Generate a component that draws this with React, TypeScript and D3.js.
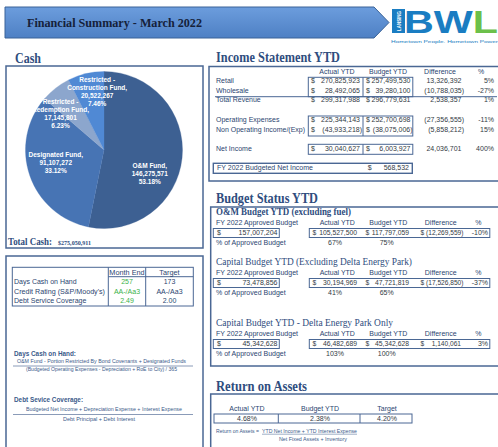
import React from "react";
import * as d3 from "d3";

// ---------- DATA ----------
const cashCategories = ["O&M Fund", "Designated Fund", "Restricted - Redemption Fund", "Restricted - Construction Fund"];
const cashValues = [146275571, 91107272, 17145801, 20522267];
const cashColors = ["#3d6092", "#4774b4", "#8ca6cd", "#5089d4"];

const incomeHeaders = ["Actual YTD", "Budget YTD", "Difference", "%"];
const incomeRows = ["Retail", "Wholesale", "Total Revenue", "Operating Expenses", "Non Operating Income/(Exp)", "Net Income"];
const incomeActual = [270825923, 28492065, 299317988, 225344143, -43933218, 30040627];
const incomeBudget = [257499530, 39280100, 296779631, 252700698, -38075006, 6003927];
const incomeDiff = [13326392, -10788035, 2538357, -27356555, -5858212, 24036701];
const incomePct = ["5%", "-27%", "1%", "-11%", "15%", "400%"];
const budgetedNetIncome = 568532;

const budgetTitles = ["O&M Budget YTD (excluding fuel)", "Capital Budget YTD (Excluding Delta Energy Park)", "Capital Budget YTD - Delta Energy Park Only"];
const budgetApproved = [157007204, 73478856, 45342628];
const budgetActual = [105527500, 30194969, 46482689];
const budgetBudget = [117797059, 47721819, 45342628];
const budgetDiff = [-12269559, -17526850, 1140061];
const budgetPct = ["-10%", "-37%", "3%"];
const budgetPctActual = ["67%", "41%", "103%"];
const budgetPctBudget = ["75%", "65%", "100%"];

const roaHeaders = ["Actual YTD", "Budget YTD", "Target"];
const roaValues = ["4.68%", "2.38%", "4.20%"];

const metricHeaders = ["Month End", "Target"];
const metricLabels = ["Days Cash on Hand", "Credit Rating  (S&P/Moody's)", "Debt Service Coverage"];
const metricMonthEnd = ["257", "AA-/Aa3", "2.49"];
const metricTarget = ["173", "AA-/Aa3", "2.00"];

// ---------- STYLE ----------
const SANS = "'Liberation Sans', Arial, sans-serif";
const SERIF = "'Liberation Serif', 'Times New Roman', serif";
const NAVY = "#2f4d7e";
const FRAME = "#4a6794";
const LABEL = "#2b4570";
const NUM = "#333a44";
const GREEN = "#3cb34a";

const numFmt = d3.format(",");
const acct = (v: number) => (v < 0 ? `(${numFmt(-v)})` : numFmt(v));

function Money({ v, dx, rx, y, pad = 2, dollar = true, size = 7 }: any) {
  return (
    <g fontFamily={SANS} fontSize={size} fill={NUM}>
      {dollar && <text x={dx} y={y}>$</text>}
      <text x={rx - (v < 0 ? 0 : pad)} y={y} textAnchor="end">{acct(v)}</text>
    </g>
  );
}

export default function App() {
  const W = 498, H = 447;
  // Pie
  const cx = 104, cy = 150, R = 78.5;
  const pie = d3.pie<number>().sort(null).value((d) => d);
  const arcs = pie(cashValues);
  const arc = d3.arc<d3.PieArcDatum<number>>().innerRadius(0).outerRadius(R);
  const lblArc = d3.arc<d3.PieArcDatum<number>>().innerRadius(R * 0.65).outerRadius(R * 0.65);
  const total = d3.sum(cashValues);
  const pctFmt = d3.format(".2%");
  const labelNudge = [[-5, 19], [0, -4], [-12, 4], [5, -9]];

  // Income layout
  const incY = [83.3, 92.7, 102.3, 122, 131.7, 150.7];
  const incHeadX = [337, 388, 440, 481];

  // Budget layout
  const secY = [215, 265, 326];
  const metY = [284.3, 293.7, 302.7];

  return (
    <svg width={W} height={H} style={{ position: "absolute", left: 0, top: 0, background: "#fff" }}>
      <defs>
        <linearGradient id="ban" x1="0" y1="0" x2="0" y2="1">
          <stop offset="0" stopColor="#6c9ddd" />
          <stop offset="1" stopColor="#4e80c4" />
        </linearGradient>
      </defs>
      <rect width={W} height={H} fill="#fff" />

      {/* Header banner */}
      <polygon points="5,7 374,7 389,22.5 374,38 5,38" fill="url(#ban)" stroke="#3a6398" strokeWidth={1} />
      <text x={27} y={27} fontFamily={SERIF} fontWeight="bold" fontSize={13} fill="#15213a" textLength={175} lengthAdjust="spacingAndGlyphs">
        Financial Summary - March 2022
      </text>
      {/* Logo */}
      <rect x={392} y={9} width={13} height={24} fill="#1a7dc2" />
      <text x={404} y={32.5} fontFamily={SANS} fontWeight="bold" fontSize={31} textLength={94} lengthAdjust="spacingAndGlyphs">
        <tspan fill="#1a7dc2">BW</tspan><tspan fill="#6cc04a">L</tspan>
      </text>
      <text x={391} y={43} fontFamily={SANS} fontSize={4.2} fill="#1a7dc2" textLength={107} lengthAdjust="spacingAndGlyphs">Hometown People. Hometown Power</text>
      <text transform="translate(400.5,31) rotate(-90)" fontFamily={SANS} fontSize={5} fontWeight="bold" fill="#fff" textLength={20} lengthAdjust="spacingAndGlyphs">LANSING</text>

      {/* Frames */}
      <g fill="none" stroke={FRAME} strokeWidth={1.5}>
        <rect x={6} y={66} width={197} height={182} />
        <rect x={6} y={256} width={197} height={200} />
        <rect x={209} y={66.5} width={300} height={114.5} />
        <rect x={210.7} y={207} width={300} height={159} />
        <rect x={210.7} y={394} width={300} height={60} />
      </g>

      {/* Cash */}
      <text x={15} y={63} fontFamily={SERIF} fontWeight="bold" fontSize={15} fill={NAVY} textLength={26} lengthAdjust="spacingAndGlyphs">Cash</text>
      <g transform={`translate(${cx},${cy})`}>
        {arcs.map((a, i) => (
          <path key={i} d={arc(a) || ""} fill={cashColors[i]} stroke={cashColors[i]} strokeWidth={0.3} />
        ))}
        {arcs.map((a, i) => {
          const [x, y] = lblArc.centroid(a);
          const name = cashCategories[i];
          const parts = name.includes(" - ") ? [name.split(" - ")[0] + " -", name.split(" - ")[1] + ","] : [name + ","];
          const lines = [...parts, numFmt(cashValues[i]), pctFmt(cashValues[i] / total)];
          const lx = x + labelNudge[i][0];
          const ly = y + labelNudge[i][1] - ((lines.length - 1) * 8) / 2 + 2.3;
          return (
            <text key={"l" + i} x={lx} y={ly} textAnchor="middle" fontFamily={SANS} fontSize={6.5} fontWeight="bold" fill="#fff">
              {lines.map((t, j) => (
                <tspan key={j} x={lx} y={ly + j * 8}>{t}</tspan>
              ))}
            </text>
          );
        })}
      </g>
      <text x={8} y={245} fontFamily={SERIF} fontWeight="bold" fontSize={10.5} fill={NAVY} textLength={44} lengthAdjust="spacingAndGlyphs">Total Cash:</text>
      <text x={58} y={245} fontFamily={SERIF} fontWeight="bold" fontSize={5.5} fill={NAVY} textLength={33} lengthAdjust="spacingAndGlyphs">{"$" + numFmt(total)}</text>

      {/* Metrics table */}
      <g fill="none" stroke={FRAME} strokeWidth={1}>
        <rect x={12.3} y={267.3} width={181} height={38.7} />
        <line x1={108.3} y1={267.3} x2={108.3} y2={306} />
        <line x1={145.7} y1={267.3} x2={145.7} y2={306} />
        <line x1={108.3} y1={276.7} x2={193.3} y2={276.7} />
      </g>
      <g fontFamily={SANS} fontSize={7} fill={LABEL}>
        {metricHeaders.map((h, i) => (
          <text key={h} x={[127, 169.5][i]} y={275} textAnchor="middle" fontSize={7.3}>{h}</text>
        ))}
        {metricLabels.map((l, i) => (
          <g key={l}>
            <text x={14} y={metY[i]} textLength={i === 1 ? 91 : undefined} lengthAdjust="spacingAndGlyphs">{l}</text>
            <text x={127} y={metY[i]} textAnchor="middle" fill={GREEN}>{metricMonthEnd[i]}</text>
            <text x={169.5} y={metY[i]} textAnchor="middle">{metricTarget[i]}</text>
          </g>
        ))}
      </g>

      {/* Notes */}
      <g fontFamily={SANS} fill="#3b5a8a">
        <text x={14} y={356} fontSize={8} fontWeight="bold" textLength={62} lengthAdjust="spacingAndGlyphs">Days Cash on Hand:</text>
        <text x={17} y={363} fontSize={5} textLength={169} lengthAdjust="spacingAndGlyphs">O&amp;M Fund - Portion Restricted By Bond Covenants + Designated Funds</text>
        <text x={26} y={371} fontSize={5} textLength={151} lengthAdjust="spacingAndGlyphs">(Budgeted Operating Expenses - Depreciation + RoE to City) / 365</text>
        <text x={14} y={402} fontSize={8} fontWeight="bold" textLength={69} lengthAdjust="spacingAndGlyphs">Debt Sevice Coverage:</text>
        <text x={26} y={411} fontSize={5} textLength={156} lengthAdjust="spacingAndGlyphs">Budgeted Net Income + Depreciation Expense + Interest Expense</text>
        <text x={63} y={421} fontSize={5} textLength={72} lengthAdjust="spacingAndGlyphs">Debt Principal + Debt Interest</text>
      </g>
      <g stroke="#8a9bb8" strokeWidth={1}>
        <line x1={13} y1={366} x2={193} y2={366} />
        <line x1={13} y1={414.5} x2={193} y2={414.5} />
      </g>

      {/* Income Statement */}
      <text x={216} y={61.5} fontFamily={SERIF} fontWeight="bold" fontSize={15} fill={NAVY} textLength={124} lengthAdjust="spacingAndGlyphs">Income Statement YTD</text>
      <g fontFamily={SANS} fontSize={7} fill={LABEL}>
        {incomeHeaders.map((h, i) => (
          <text key={h} x={incHeadX[i]} y={74} textAnchor="middle">{h}</text>
        ))}
        {incomeRows.map((r, i) => (
          <text key={r} x={216} y={incY[i]}>{r}</text>
        ))}
      </g>
      {incomeRows.map((r, i) => (
        <g key={"v" + r}>
          <Money v={incomeActual[i]} dx={311} rx={362} y={incY[i]} />
          <Money v={incomeBudget[i]} dx={366} rx={412.5} y={incY[i]} />
          <Money v={incomeDiff[i]} rx={464} y={incY[i]} dollar={false} pad={2.5} />
          <text x={494} y={incY[i]} textAnchor="end" fontFamily={SANS} fontSize={7} fill={NUM}>{incomePct[i]}</text>
        </g>
      ))}
      <g fill="none" stroke={FRAME} strokeWidth={1}>
        <rect x={308.3} y={77.3} width={104.5} height={19.4} />
        <line x1={363} y1={77.3} x2={363} y2={96.7} />
        <line x1={215} y1={96.7} x2={497} y2={96.7} />
        <rect x={308.3} y={116} width={104.5} height={20} />
        <line x1={363} y1={116} x2={363} y2={136} />
        <rect x={308.3} y={144.3} width={104.5} height={10} />
        <line x1={363} y1={144.3} x2={363} y2={154.3} />
        <rect x={213.3} y={163.3} width={199} height={10} strokeWidth={1.4} />
      </g>
      <text x={217} y={170.3} fontFamily={SANS} fontSize={7} fill={LABEL}>FY 2022 Budgeted Net Income</text>
      <Money v={budgetedNetIncome} dx={367.7} rx={409} pad={0} y={170.3} />

      {/* Budget Status */}
      <text x={216} y={203} fontFamily={SERIF} fontWeight="bold" fontSize={15} fill={NAVY} textLength={102} lengthAdjust="spacingAndGlyphs">Budget Status YTD</text>
      {budgetTitles.map((t, i) => {
        const y0 = secY[i];
        const tw = [135, 196, 177][i];
        return (
          <g key={t}>
            <text x={216} y={y0} fontFamily={SERIF} fontWeight={i === 0 ? "bold" : "normal"} fontSize={10.5} fill={NAVY} textLength={tw} lengthAdjust="spacingAndGlyphs">{t}</text>
            <g fontFamily={SANS} fontSize={7} fill={LABEL}>
              <text x={216} y={y0 + 9.5}>FY 2022 Approved Budget</text>
              {incomeHeaders.map((h, j) => (
                <text key={h} x={[337.3, 388.3, 440.7, 478.3][j]} y={y0 + 9.5} textAnchor="middle">{h}</text>
              ))}
              <text x={216} y={y0 + 29.5}>% of Approved Budget</text>
            </g>
            <g fontFamily={SANS} fontSize={7} fill={NUM}>
              <text x={335} y={y0 + 29.5} textAnchor="middle">{budgetPctActual[i]}</text>
              <text x={386.7} y={y0 + 29.5} textAnchor="middle">{budgetPctBudget[i]}</text>
            </g>
            <g fill="none" stroke={FRAME} strokeWidth={1}>
              <rect x={213.3} y={y0 + 13.5} width={66} height={9} />
              <rect x={309.3} y={y0 + 13.5} width={180.5} height={9} />
            </g>
            <Money v={budgetApproved[i]} dx={217} rx={277.5} pad={0} y={y0 + 20} />
            <Money v={budgetActual[i]} dx={312.5} rx={359} y={y0 + 20} size={6.8} />
            <Money v={budgetBudget[i]} dx={365.5} rx={411} y={y0 + 20} size={6.8} />
            <Money v={budgetDiff[i]} dx={420.5} rx={463.5} pad={2.5} y={y0 + 20} size={6.6} />
            <text x={488} y={y0 + 20} textAnchor="end" fontFamily={SANS} fontSize={7} fill={NUM}>{budgetPct[i]}</text>
          </g>
        );
      })}

      {/* Return on Assets */}
      <text x={216} y={391} fontFamily={SERIF} fontWeight="bold" fontSize={15} fill={NAVY} textLength={91} lengthAdjust="spacingAndGlyphs">Return on Assets</text>
      <g fill="none" stroke={FRAME} strokeWidth={1}>
        <rect x={214} y={414} width={198} height={9} />
        <line x1={278.3} y1={414} x2={278.3} y2={423} />
        <line x1={360} y1={414} x2={360} y2={423} />
      </g>
      <g fontFamily={SANS} fontSize={7} textAnchor="middle">
        {roaHeaders.map((h, i) => (
          <g key={h}>
            <text x={[247, 320, 387][i]} y={411} fill={LABEL}>{h}</text>
            <text x={[247, 320, 387][i]} y={420.7} fill={NUM}>{roaValues[i]}</text>
          </g>
        ))}
      </g>
      <g fontFamily={SANS} fontSize={4.5} fill="#3b5a8a">
        <text x={216} y={433} textLength={43} lengthAdjust="spacingAndGlyphs">Return on Assets =</text>
        <text x={262} y={433} textLength={95} lengthAdjust="spacingAndGlyphs">YTD Net Income + YTD Interest Expense</text>
        <text x={279} y={441} textLength={68} lengthAdjust="spacingAndGlyphs">Net Fixed Assets + Inventory</text>
      </g>
      <line x1={262} y1={434.2} x2={357} y2={434.2} stroke="#3b5a8a" strokeWidth={0.5} />
    </svg>
  );
}
